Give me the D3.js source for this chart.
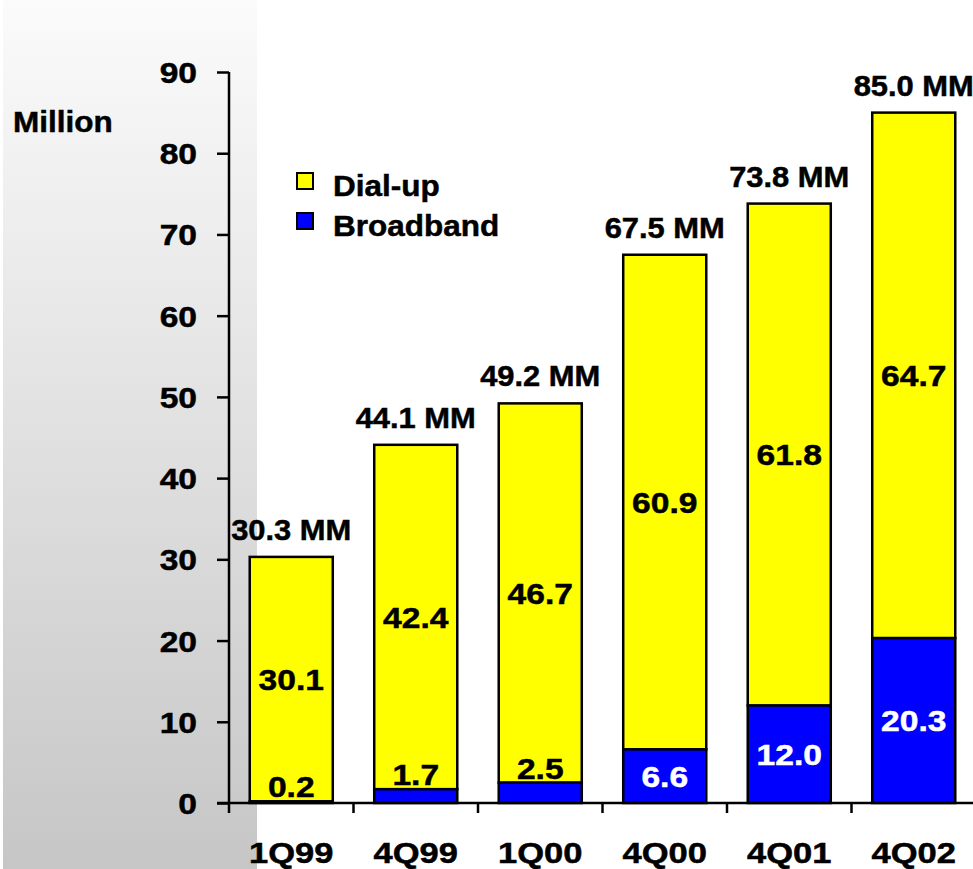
<!DOCTYPE html>
<html>
<head>
<meta charset="utf-8">
<script src="https://cdn.jsdelivr.net/npm/d3@7/dist/d3.min.js"></script>
<style>
  html, body { margin: 0; padding: 0; background: #ffffff; overflow: hidden; }
  svg { display: block; }
  text { font-family: "Liberation Sans", Arial, sans-serif; font-weight: bold; }
</style>
</head>
<body>
<svg id="chart" width="973" height="869"></svg>
<script>
const categories = ["1Q99", "4Q99", "1Q00", "4Q00", "4Q01", "4Q02"];
const broadband = [0.2, 1.7, 2.5, 6.6, 12.0, 20.3];
const dialup = [30.1, 42.4, 46.7, 60.9, 61.8, 64.7];
const totalLabels = ["30.3 MM", "44.1 MM", "49.2 MM", "67.5 MM", "73.8 MM", "85.0 MM"];
const yTicks = [0, 10, 20, 30, 40, 50, 60, 70, 80, 90];
const seriesNames = ["Dial-up", "Broadband"];
const seriesColors = ["#FFFF00", "#0000FF"];

const W = 973, H = 869;
const FS = 30;
const svg = d3.select("#chart");

// background gradient panel
const defs = svg.append("defs");
const grad = defs.append("linearGradient").attr("id", "bg").attr("x1", 0).attr("y1", 0).attr("x2", 0).attr("y2", 1);
grad.append("stop").attr("offset", "0%").attr("stop-color", "#fbfbfb");
grad.append("stop").attr("offset", "100%").attr("stop-color", "#c6c6c6");
svg.append("rect").attr("x", 3).attr("y", 0).attr("width", 254).attr("height", H).attr("fill", "url(#bg)");

const y = d3.scaleLinear().domain([0, 90]).range([803, 72]);
const x = d3.scaleBand().domain(categories).range([229, 976]).padding(0);
const barW = x.bandwidth() * 0.667;

function stext(g, str, tx, ty, anchor, fill, sx) {
  const f = fill || "#000";
  return g.append("text")
    .attr("transform", `translate(${tx},${ty}) scale(${sx || 1.1},1)`)
    .attr("text-anchor", anchor)
    .attr("font-size", FS)
    .attr("fill", f)
    .attr("stroke", f)
    .attr("stroke-width", 0.5)
    .text(str);
}

// Y axis
const yAxis = d3.axisLeft(y).tickValues(yTicks).tickSize(12).tickFormat("");
const gy = svg.append("g").attr("transform", "translate(229,0)").call(yAxis);
gy.select(".domain").remove();
gy.selectAll(".tick line").attr("stroke", "#000").attr("stroke-width", 2.5);
svg.append("line").attr("x1", 229).attr("x2", 229).attr("y1", y(90)).attr("y2", 813)
  .attr("stroke", "#000").attr("stroke-width", 2.5);
yTicks.forEach(t => stext(svg, String(t), 197, y(t) + 11, "end", "#000", 1.12));

// X axis
const xAxis = d3.axisBottom(x).tickSize(0).tickFormat("");
const gx = svg.append("g").attr("transform", "translate(0,803)").call(xAxis);
gx.select(".domain").remove();
svg.append("line").attr("x1", 217).attr("x2", W).attr("y1", 803).attr("y2", 803)
  .attr("stroke", "#000").attr("stroke-width", 2.5);
categories.forEach((c, i) => {
  if (i > 0) {
    svg.append("line").attr("x1", x(c)).attr("x2", x(c)).attr("y1", 803).attr("y2", 813)
      .attr("stroke", "#000").attr("stroke-width", 2.5);
  }
  stext(svg, c, x(c) + x.bandwidth() / 2, 863, "middle", "#000", 1.15);
});

// Bars
const bars = svg.append("g");
categories.forEach((c, i) => {
  const cx = x(c) + x.bandwidth() / 2;
  const x0 = cx - barW / 2;
  const bb = broadband[i], du = dialup[i];
  const total = bb + du;
  bars.append("rect").attr("x", x0).attr("y", y(total)).attr("width", barW).attr("height", y(bb) - y(total))
    .attr("fill", seriesColors[0]).attr("stroke", "#000").attr("stroke-width", 2.5);
  bars.append("rect").attr("x", x0).attr("y", y(bb)).attr("width", barW).attr("height", y(0) - y(bb))
    .attr("fill", seriesColors[1]).attr("stroke", "#000").attr("stroke-width", 2.5);
  const duMid = (y(bb) + y(total)) / 2;
  stext(svg, du.toFixed(1), cx, duMid + 10.5, "middle", "#000", 1.12);
  const segH = y(0) - y(bb);
  if (segH > 30) {
    stext(svg, bb.toFixed(1), cx, (y(0) + y(bb)) / 2 + 10.5, "middle", "#fff", 1.12);
  } else {
    stext(svg, bb.toFixed(1), cx, y(bb) - 4, "middle", "#000", 1.12);
  }
  stext(svg, totalLabels[i], cx, y(total) - 17, "middle", "#000", 1.03);
});

// Million label
stext(svg, "Million", 13, 132, "start", "#000", 1.05);

// Legend
const legendY = [173, 213];
seriesNames.forEach((n, i) => {
  svg.append("rect").attr("x", 297).attr("y", legendY[i]).attr("width", 16).attr("height", 16)
    .attr("fill", seriesColors[i]).attr("stroke", "#000").attr("stroke-width", 2);
  stext(svg, n, 333, legendY[i] + 23, "start", "#000", 1.05);
});
</script>
</body>
</html>
